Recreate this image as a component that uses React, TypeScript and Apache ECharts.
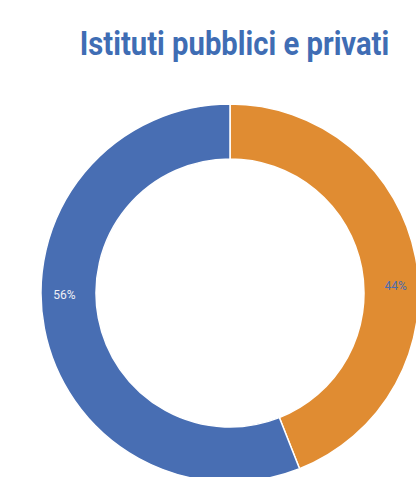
import React, { useEffect, useRef } from "react";
import * as echarts from "echarts";

const TITLE = "Istituti pubblici e privati";
const categories = ["Privati", "Pubblici"];
const values = [44, 56];
const colors = ["#E08C32", "#486EB3"];
const labelColors = ["#4B6DB0", "#F0F0F5"];

export default function App() {
  const ref = useRef<HTMLDivElement>(null);
  useEffect(() => {
    if (!ref.current) return;
    const chart = echarts.init(ref.current, undefined, { renderer: "svg" });
    chart.setOption({
      animation: false,
      backgroundColor: "#ffffff",
      graphic: [
        {
          type: "text",
          x: 234.5,
          y: 44,
          scaleX: 0.86,
          style: {
            text: TITLE,
            fontFamily: "Roboto",
            fontWeight: "bold",
            fontSize: 34,
            fill: "#3F6DB4",
            align: "center",
            verticalAlign: "middle",
          },
        },
      ],
      series: [
        {
          type: "pie",
          center: [230, 293],
          radius: [134, 189],
          startAngle: 90,
          clockwise: true,
          avoidLabelOverlap: false,
          itemStyle: { borderColor: "#ffffff", borderWidth: 1.5 },
          label: {
            show: true,
            position: "inside",
            formatter: "{c}%",
            fontFamily: "Roboto",
            fontSize: 12,
          },
          labelLine: { show: false },
          labelLayout: (p: any) =>
            p.dataIndex === 0 ? { dx: 4, dy: 24 } : { dx: -4, dy: -29 },
          data: categories.map((name, i) => ({
            name,
            value: values[i],
            itemStyle: { color: colors[i] },
            label: { color: labelColors[i] },
          })),
        },
      ],
    });
    return () => chart.dispose();
  }, []);
  return (
    <div
      ref={ref}
      style={{ position: "fixed", left: 0, top: 0, width: 416, height: 477 }}
    />
  );
}
